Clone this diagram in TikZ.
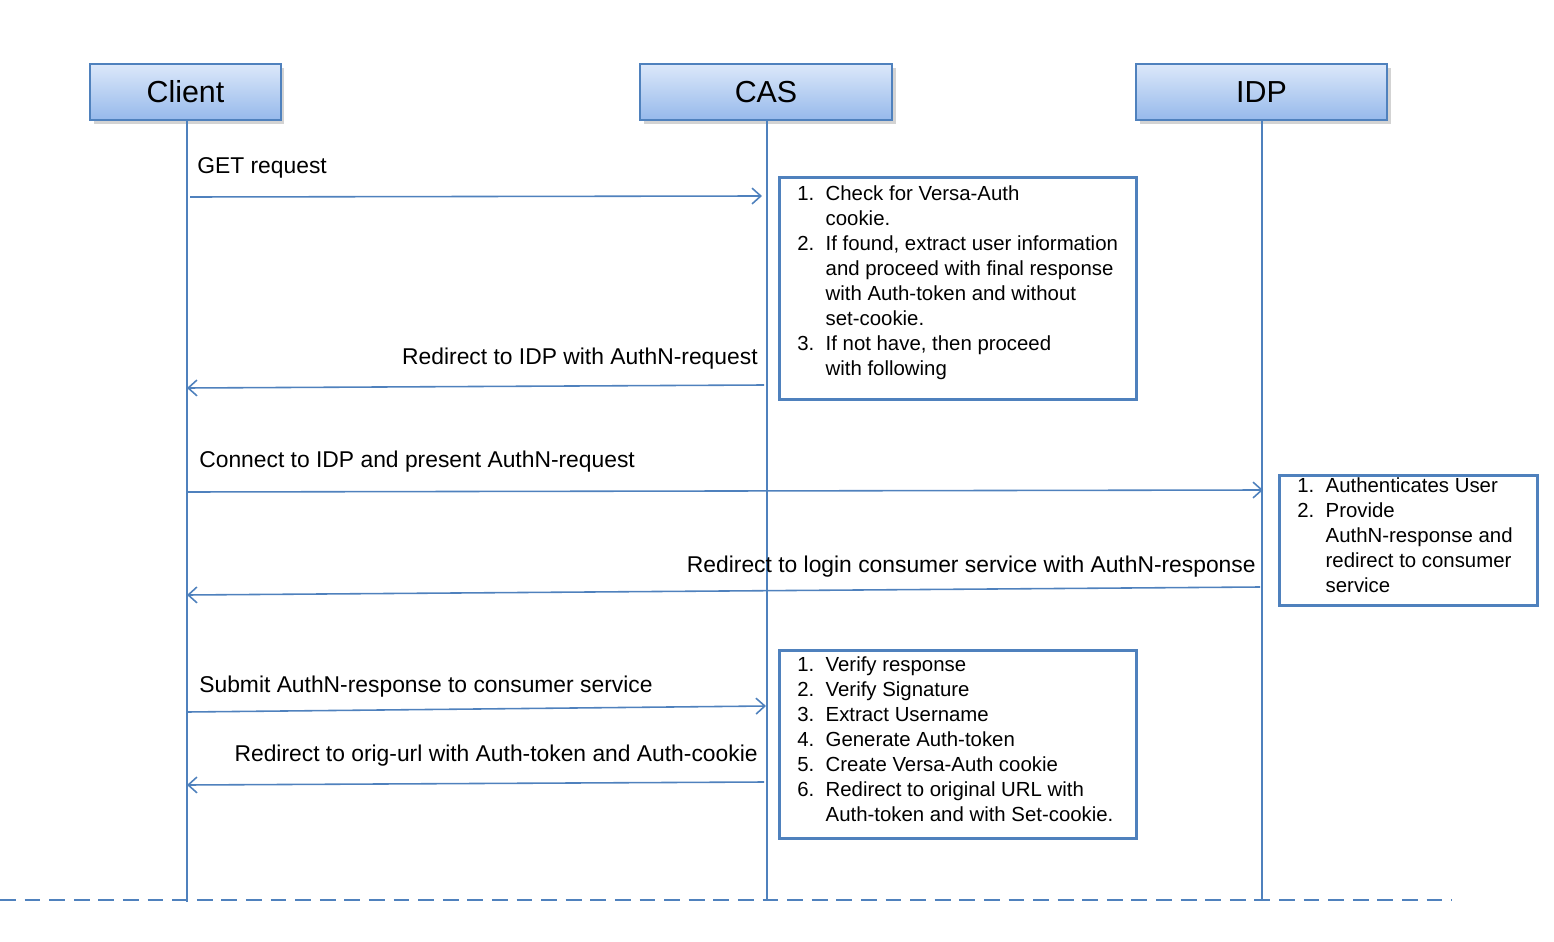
\documentclass[tikz,border=0pt]{standalone}
\usepackage{fontspec}
\setmainfont{Liberation Sans}
\usetikzlibrary{arrows.meta,shadows}
\definecolor{ln}{RGB}{79,129,189}
\definecolor{tp}{RGB}{220,232,250}
\definecolor{bt}{RGB}{150,185,235}
\begin{document}
\begin{tikzpicture}[x=0.02cm,y=-0.02cm,
 hdr/.style={draw=ln,line width=1pt,top color=tp,bottom color=bt,minimum height=1.12cm,drop shadow={opacity=0.35,shadow xshift=2pt,shadow yshift=-2pt},font=\fontsize{17.3}{19}\selectfont},
 life/.style={draw=ln,line width=0.9pt},
 msg/.style={draw=ln,line width=0.9pt,-{Straight Barb[length=5pt,width=9pt]}},
 lab/.style={font=\fontsize{13}{15}\selectfont,inner sep=0pt},
 box/.style={draw=ln,line width=1.8pt,anchor=north west,align=left,inner sep=0pt},
 btxt/.style={anchor=north west,inner sep=0pt,align=left,font=\fontsize{11.6}{14.2}\selectfont}]
\useasboundingbox (0,0) rectangle (1554,942);
\node[hdr,minimum width=3.82cm] (client) at (185.5,92) {Client};
\node[hdr,minimum width=5.04cm] (cas) at (766,92) {CAS};
\node[hdr,minimum width=5.02cm] (idp) at (1261.5,92) {IDP};
\coordinate (cb) at (187,902); \coordinate (sb) at (767,900); \coordinate (ib) at (1262,900);
\draw[life] (client.south) ++(1.5,0) -- (cb); \draw[life] (cas.south) ++(1,0) -- (sb); \draw[life] (idp.south) ++(0.5,0) -- (ib);
\coordinate (d1) at (0,900); \coordinate (d2) at (1452,900);
\draw[ln,line width=0.9pt,dash pattern=on 9pt off 5pt] (d1) -- (d2);
% messages
\coordinate (a1) at (190,197); \coordinate (a2) at (762,196);
\draw[msg] (a1) -- (a2);
\node[lab,anchor=west] (l1) at (197,168) {GET request};
\coordinate (b1) at (764,385); \coordinate (b2) at (187,388);
\draw[msg] (b1) -- (b2);
\node[lab,anchor=east] (l2) at (758,359) {Redirect to IDP with AuthN-request};
\coordinate (c1) at (187,492); \coordinate (c2) at (1263,490);
\draw[msg] (c1) -- (c2);
\node[lab,anchor=west] (l3) at (199,462) {Connect to IDP and present AuthN-request};
\coordinate (e1) at (1260,587); \coordinate (e2) at (187,595);
\draw[msg] (e1) -- (e2);
\node[lab,anchor=east] (l4) at (1256,567) {Redirect to login consumer service with AuthN-response};
\coordinate (f1) at (187,712); \coordinate (f2) at (766,706);
\draw[msg] (f1) -- (f2);
\node[lab,anchor=west] (l5) at (199,687) {Submit AuthN-response to consumer service};
\coordinate (g1) at (764,782); \coordinate (g2) at (187,785);
\draw[msg] (g1) -- (g2);
\node[lab,anchor=east] (l6) at (758,756) {Redirect to orig-url with Auth-token and Auth-cookie};
% boxes
\node[box,minimum width=7.14cm,minimum height=4.44cm] (n1) at (778,176) {};
\node[btxt] (t1) at (797,183) {%
\begin{tabular}{@{}r@{\ \ }l@{}}
1. & Check for Versa-Auth\\ & cookie.\\
2. & If found, extract user information\\ & and proceed with final response\\ & with Auth-token and without\\ & set-cookie.\\
3. & If not have, then proceed\\ & with following
\end{tabular}};
\node[box,minimum width=5.16cm,minimum height=2.6cm] (n2) at (1278,474) {};
\node[btxt] (t2) at (1297,475) {%
\begin{tabular}{@{}r@{\ \ }l@{}}
1. & Authenticates User\\
2. & Provide\\ & AuthN-response and\\ & redirect to consumer\\ & service
\end{tabular}};
\node[box,minimum width=7.14cm,minimum height=3.76cm] (n3) at (778,649) {};
\node[btxt] (t3) at (797,654) {%
\begin{tabular}{@{}r@{\ \ }l@{}}
1. & Verify response\\
2. & Verify Signature\\
3. & Extract Username\\
4. & Generate Auth-token\\
5. & Create Versa-Auth cookie\\
6. & Redirect to original URL with\\ & Auth-token and with Set-cookie.
\end{tabular}};
\end{tikzpicture}
\end{document}
